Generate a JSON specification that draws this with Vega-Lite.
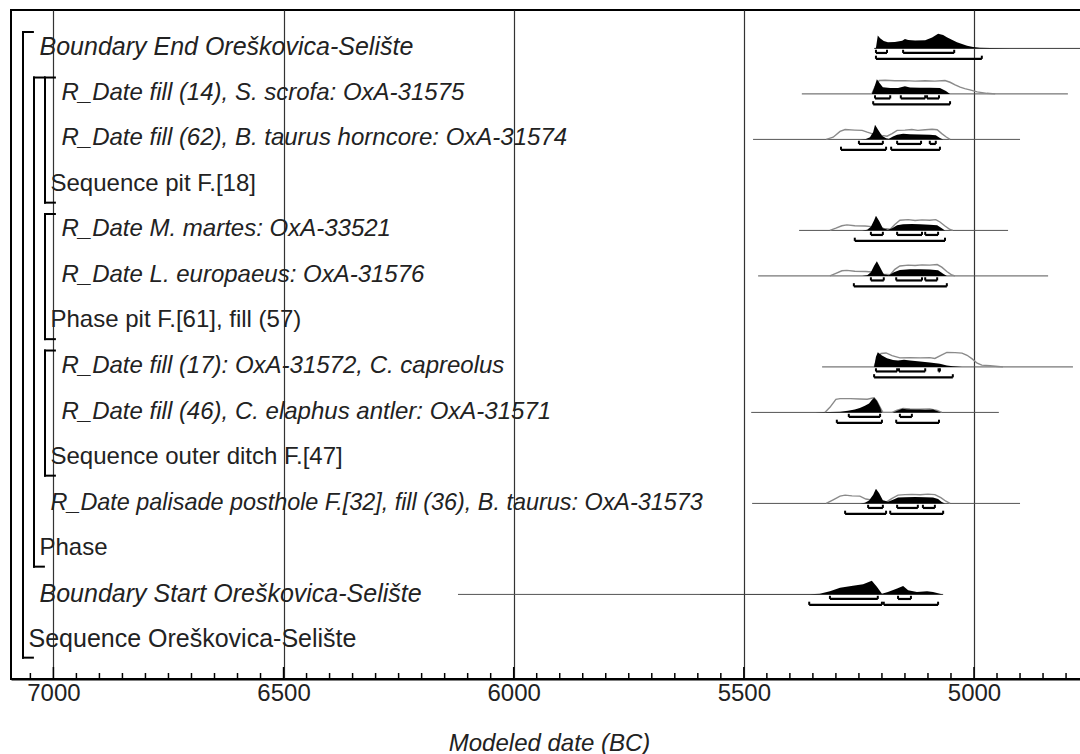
{
  "$schema": "https://vega.github.io/schema/vega-lite/v6.json",
  "width": 1076,
  "height": 669,
  "autosize": {"type": "none"},
  "padding": {"left": 11, "top": 10, "right": 0, "bottom": 75},
  "background": "white",
  "config": {
    "view": {"stroke": "black", "strokeWidth": 2},
    "font": "Liberation Sans"
  },
  "datasets": {
    "labels": [
      {"row": 0, "depth": 1, "kind": "Boundary", "label": "Boundary End Oreškovica-Selište"},
      {"row": 1, "depth": 3, "kind": "R_Date", "label": "R_Date fill (14), S. scrofa: OxA-31575"},
      {"row": 2, "depth": 3, "kind": "R_Date", "label": "R_Date fill (62), B. taurus horncore: OxA-31574"},
      {"row": 3, "depth": 2, "kind": "Sequence", "label": "Sequence pit F.[18]"},
      {"row": 4, "depth": 3, "kind": "R_Date", "label": "R_Date M. martes: OxA-33521"},
      {"row": 5, "depth": 3, "kind": "R_Date", "label": "R_Date L. europaeus: OxA-31576"},
      {"row": 6, "depth": 2, "kind": "Phase", "label": "Phase pit F.[61], fill (57)"},
      {"row": 7, "depth": 3, "kind": "R_Date", "label": "R_Date fill (17): OxA-31572, C. capreolus"},
      {"row": 8, "depth": 3, "kind": "R_Date", "label": "R_Date fill (46), C. elaphus antler: OxA-31571"},
      {"row": 9, "depth": 2, "kind": "Sequence", "label": "Sequence outer ditch F.[47]"},
      {"row": 10, "depth": 2, "kind": "R_Date", "label": "R_Date palisade posthole F.[32], fill (36), B. taurus: OxA-31573"},
      {"row": 11, "depth": 1, "kind": "Phase", "label": "Phase"},
      {"row": 12, "depth": 1, "kind": "Boundary", "label": "Boundary Start Oreškovica-Selište"},
      {"row": 13, "depth": 0, "kind": "Model", "label": "Sequence Oreškovica-Selište"}
    ],
    "groups": [
      {"name": "Sequence Oreškovica-Selište", "depth": 0, "first": 0, "last": 13},
      {"name": "Phase", "depth": 1, "first": 1, "last": 11},
      {"name": "Sequence pit F.[18]", "depth": 2, "first": 1, "last": 3},
      {"name": "Phase pit F.[61], fill (57)", "depth": 2, "first": 4, "last": 6},
      {"name": "Sequence outer ditch F.[47]", "depth": 2, "first": 7, "last": 9}
    ],
    "ticks": [
      {"yr": 7050, "major": false}, {"yr": 7000, "major": true}, {"yr": 6950, "major": false}, {"yr": 6900, "major": false}, {"yr": 6850, "major": false}, {"yr": 6800, "major": false}, {"yr": 6750, "major": false}, {"yr": 6700, "major": false}, {"yr": 6650, "major": false}, {"yr": 6600, "major": false}, {"yr": 6550, "major": false},
      {"yr": 6500, "major": true}, {"yr": 6450, "major": false}, {"yr": 6400, "major": false}, {"yr": 6350, "major": false}, {"yr": 6300, "major": false}, {"yr": 6250, "major": false}, {"yr": 6200, "major": false}, {"yr": 6150, "major": false}, {"yr": 6100, "major": false}, {"yr": 6050, "major": false},
      {"yr": 6000, "major": true}, {"yr": 5950, "major": false}, {"yr": 5900, "major": false}, {"yr": 5850, "major": false}, {"yr": 5800, "major": false}, {"yr": 5750, "major": false}, {"yr": 5700, "major": false}, {"yr": 5650, "major": false}, {"yr": 5600, "major": false}, {"yr": 5550, "major": false},
      {"yr": 5500, "major": true}, {"yr": 5450, "major": false}, {"yr": 5400, "major": false}, {"yr": 5350, "major": false}, {"yr": 5300, "major": false}, {"yr": 5250, "major": false}, {"yr": 5200, "major": false}, {"yr": 5150, "major": false}, {"yr": 5100, "major": false}, {"yr": 5050, "major": false},
      {"yr": 5000, "major": true}, {"yr": 4950, "major": false}, {"yr": 4900, "major": false}, {"yr": 4850, "major": false}, {"yr": 4800, "major": false}
    ],
    "spans": [
      {"row": 0, "from": 5217, "to": 4755},
      {"row": 1, "from": 5374, "to": 4796},
      {"row": 2, "from": 5480, "to": 4900},
      {"row": 4, "from": 5380, "to": 4926},
      {"row": 5, "from": 5469, "to": 4839},
      {"row": 7, "from": 5330, "to": 4785},
      {"row": 8, "from": 5484, "to": 4946},
      {"row": 10, "from": 5482, "to": 4900},
      {"row": 12, "from": 6121, "to": 5067}
    ],
    "ranges": [
      {"row": 0, "lvl": 68, "from": 5213, "to": 5189},
      {"row": 0, "lvl": 68, "from": 5154, "to": 5043},
      {"row": 0, "lvl": 95, "from": 5213, "to": 4983},
      {"row": 1, "lvl": 68, "from": 5215, "to": 5182},
      {"row": 1, "lvl": 68, "from": 5159, "to": 5106},
      {"row": 1, "lvl": 68, "from": 5102, "to": 5076},
      {"row": 1, "lvl": 95, "from": 5219, "to": 5052},
      {"row": 2, "lvl": 68, "from": 5250, "to": 5198},
      {"row": 2, "lvl": 68, "from": 5167, "to": 5115},
      {"row": 2, "lvl": 68, "from": 5096, "to": 5083},
      {"row": 2, "lvl": 95, "from": 5289, "to": 5191},
      {"row": 2, "lvl": 95, "from": 5180, "to": 5074},
      {"row": 4, "lvl": 68, "from": 5224, "to": 5198},
      {"row": 4, "lvl": 68, "from": 5167, "to": 5113},
      {"row": 4, "lvl": 68, "from": 5106, "to": 5078},
      {"row": 4, "lvl": 95, "from": 5259, "to": 5063},
      {"row": 5, "lvl": 68, "from": 5224, "to": 5196},
      {"row": 5, "lvl": 68, "from": 5169, "to": 5113},
      {"row": 5, "lvl": 68, "from": 5106, "to": 5080},
      {"row": 5, "lvl": 95, "from": 5261, "to": 5059},
      {"row": 7, "lvl": 68, "from": 5213, "to": 5167},
      {"row": 7, "lvl": 68, "from": 5163, "to": 5106},
      {"row": 7, "lvl": 68, "from": 5077, "to": 5074},
      {"row": 7, "lvl": 95, "from": 5217, "to": 5046},
      {"row": 8, "lvl": 68, "from": 5272, "to": 5204},
      {"row": 8, "lvl": 68, "from": 5161, "to": 5135},
      {"row": 8, "lvl": 95, "from": 5298, "to": 5200},
      {"row": 8, "lvl": 95, "from": 5169, "to": 5076},
      {"row": 10, "lvl": 68, "from": 5230, "to": 5198},
      {"row": 10, "lvl": 68, "from": 5167, "to": 5122},
      {"row": 10, "lvl": 68, "from": 5111, "to": 5085},
      {"row": 10, "lvl": 95, "from": 5280, "to": 5191},
      {"row": 10, "lvl": 95, "from": 5182, "to": 5067},
      {"row": 12, "lvl": 68, "from": 5313, "to": 5209},
      {"row": 12, "lvl": 68, "from": 5165, "to": 5137},
      {"row": 12, "lvl": 95, "from": 5358, "to": 5200},
      {"row": 12, "lvl": 95, "from": 5196, "to": 5078}
    ],
    "post": [
      {"row":0,"t":5217,"p":0},{"row":0,"t":5213,"p":5},{"row":0,"t":5209,"p":89},{"row":0,"t":5204,"p":70},{"row":0,"t":5196,"p":50},{"row":0,"t":5187,"p":42},{"row":0,"t":5172,"p":44},{"row":0,"t":5156,"p":52},{"row":0,"t":5150,"p":65},{"row":0,"t":5143,"p":58},{"row":0,"t":5128,"p":54},{"row":0,"t":5106,"p":56},{"row":0,"t":5091,"p":75},{"row":0,"t":5078,"p":100},{"row":0,"t":5067,"p":92},{"row":0,"t":5059,"p":77},{"row":0,"t":5048,"p":60},{"row":0,"t":5037,"p":42},{"row":0,"t":5026,"p":30},{"row":0,"t":5015,"p":19},{"row":0,"t":5002,"p":9},{"row":0,"t":4987,"p":5},{"row":0,"t":4965,"p":3},{"row":0,"t":4922,"p":1.5},{"row":0,"t":4857,"p":0.8},{"row":0,"t":4755,"p":0.4},
      {"row":1,"t":5222,"p":0},{"row":1,"t":5217,"p":40},{"row":1,"t":5211,"p":100},{"row":1,"t":5204,"p":70},{"row":1,"t":5198,"p":46},{"row":1,"t":5182,"p":40},{"row":1,"t":5165,"p":40},{"row":1,"t":5150,"p":52},{"row":1,"t":5139,"p":44},{"row":1,"t":5117,"p":42},{"row":1,"t":5096,"p":42},{"row":1,"t":5074,"p":40},{"row":1,"t":5061,"p":20},{"row":1,"t":5052,"p":0},
      {"row":2,"t":5248,"p":0},{"row":2,"t":5235,"p":3},{"row":2,"t":5226,"p":15},{"row":2,"t":5219,"p":50},{"row":2,"t":5215,"p":100},{"row":2,"t":5209,"p":70},{"row":2,"t":5200,"p":25},{"row":2,"t":5191,"p":8},{"row":2,"t":5185,"p":5},{"row":2,"t":5176,"p":20},{"row":2,"t":5167,"p":32},{"row":2,"t":5154,"p":38},{"row":2,"t":5139,"p":35},{"row":2,"t":5117,"p":33},{"row":2,"t":5096,"p":32},{"row":2,"t":5083,"p":28},{"row":2,"t":5074,"p":10},{"row":2,"t":5067,"p":0},
      {"row":4,"t":5243,"p":0},{"row":4,"t":5232,"p":5},{"row":4,"t":5224,"p":25},{"row":4,"t":5217,"p":70},{"row":4,"t":5213,"p":100},{"row":4,"t":5206,"p":65},{"row":4,"t":5198,"p":15},{"row":4,"t":5187,"p":5},{"row":4,"t":5178,"p":15},{"row":4,"t":5167,"p":35},{"row":4,"t":5154,"p":42},{"row":4,"t":5135,"p":44},{"row":4,"t":5117,"p":42},{"row":4,"t":5096,"p":38},{"row":4,"t":5080,"p":35},{"row":4,"t":5070,"p":15},{"row":4,"t":5063,"p":0},
      {"row":5,"t":5243,"p":0},{"row":5,"t":5232,"p":5},{"row":5,"t":5224,"p":25},{"row":5,"t":5217,"p":70},{"row":5,"t":5211,"p":100},{"row":5,"t":5204,"p":60},{"row":5,"t":5196,"p":12},{"row":5,"t":5185,"p":4},{"row":5,"t":5174,"p":25},{"row":5,"t":5161,"p":40},{"row":5,"t":5139,"p":45},{"row":5,"t":5117,"p":46},{"row":5,"t":5096,"p":44},{"row":5,"t":5078,"p":38},{"row":5,"t":5067,"p":15},{"row":5,"t":5059,"p":0},
      {"row":7,"t":5217,"p":0},{"row":7,"t":5213,"p":70},{"row":7,"t":5209,"p":100},{"row":7,"t":5200,"p":78},{"row":7,"t":5189,"p":60},{"row":7,"t":5176,"p":48},{"row":7,"t":5165,"p":44},{"row":7,"t":5152,"p":50},{"row":7,"t":5139,"p":44},{"row":7,"t":5117,"p":38},{"row":7,"t":5096,"p":30},{"row":7,"t":5074,"p":22},{"row":7,"t":5059,"p":10},{"row":7,"t":5046,"p":4},{"row":7,"t":5026,"p":0},
      {"row":8,"t":5345,"p":0},{"row":8,"t":5313,"p":2},{"row":8,"t":5291,"p":5},{"row":8,"t":5274,"p":11},{"row":8,"t":5259,"p":20},{"row":8,"t":5248,"p":30},{"row":8,"t":5237,"p":45},{"row":8,"t":5228,"p":62},{"row":8,"t":5222,"p":85},{"row":8,"t":5217,"p":100},{"row":8,"t":5211,"p":80},{"row":8,"t":5204,"p":35},{"row":8,"t":5200,"p":0},{"row":8,"t":5176,"p":0},{"row":8,"t":5167,"p":12},{"row":8,"t":5156,"p":25},{"row":8,"t":5146,"p":22},{"row":8,"t":5128,"p":20},{"row":8,"t":5106,"p":18},{"row":8,"t":5089,"p":20},{"row":8,"t":5080,"p":10},{"row":8,"t":5072,"p":0},
      {"row":10,"t":5248,"p":0},{"row":10,"t":5237,"p":5},{"row":10,"t":5228,"p":20},{"row":10,"t":5219,"p":60},{"row":10,"t":5213,"p":100},{"row":10,"t":5206,"p":70},{"row":10,"t":5198,"p":22},{"row":10,"t":5187,"p":12},{"row":10,"t":5176,"p":25},{"row":10,"t":5165,"p":40},{"row":10,"t":5150,"p":42},{"row":10,"t":5128,"p":44},{"row":10,"t":5106,"p":42},{"row":10,"t":5089,"p":40},{"row":10,"t":5078,"p":30},{"row":10,"t":5070,"p":10},{"row":10,"t":5063,"p":0},
      {"row":12,"t":5595,"p":0.3},{"row":12,"t":5465,"p":0.7},{"row":12,"t":5393,"p":1},{"row":12,"t":5356,"p":1},{"row":12,"t":5335,"p":5},{"row":12,"t":5313,"p":21},{"row":12,"t":5291,"p":45},{"row":12,"t":5263,"p":59},{"row":12,"t":5241,"p":69},{"row":12,"t":5230,"p":84},{"row":12,"t":5222,"p":93},{"row":12,"t":5211,"p":52},{"row":12,"t":5200,"p":5},{"row":12,"t":5187,"p":16},{"row":12,"t":5167,"p":41},{"row":12,"t":5154,"p":57},{"row":12,"t":5143,"p":29},{"row":12,"t":5124,"p":16},{"row":12,"t":5102,"p":21},{"row":12,"t":5089,"p":16},{"row":12,"t":5074,"p":4},{"row":12,"t":5067,"p":0}
    ],
    "prior": [
      {"row":1,"t":5222,"p":0},{"row":1,"t":5215,"p":50},{"row":1,"t":5206,"p":92},{"row":1,"t":5193,"p":94},{"row":1,"t":5172,"p":90},{"row":1,"t":5150,"p":91},{"row":1,"t":5128,"p":88},{"row":1,"t":5106,"p":90},{"row":1,"t":5085,"p":88},{"row":1,"t":5063,"p":92},{"row":1,"t":5052,"p":80},{"row":1,"t":5041,"p":62},{"row":1,"t":5030,"p":46},{"row":1,"t":5020,"p":36},{"row":1,"t":5009,"p":28},{"row":1,"t":4993,"p":14},{"row":1,"t":4972,"p":4},{"row":1,"t":4954,"p":0},
      {"row":2,"t":5321,"p":0},{"row":2,"t":5306,"p":15},{"row":2,"t":5291,"p":55},{"row":2,"t":5280,"p":68},{"row":2,"t":5259,"p":64},{"row":2,"t":5243,"p":62},{"row":2,"t":5232,"p":50},{"row":2,"t":5222,"p":40},{"row":2,"t":5211,"p":35},{"row":2,"t":5200,"p":28},{"row":2,"t":5189,"p":22},{"row":2,"t":5178,"p":40},{"row":2,"t":5167,"p":62},{"row":2,"t":5150,"p":64},{"row":2,"t":5135,"p":68},{"row":2,"t":5122,"p":62},{"row":2,"t":5106,"p":66},{"row":2,"t":5091,"p":70},{"row":2,"t":5080,"p":66},{"row":2,"t":5070,"p":40},{"row":2,"t":5061,"p":18},{"row":2,"t":5052,"p":0},
      {"row":4,"t":5313,"p":0},{"row":4,"t":5300,"p":15},{"row":4,"t":5287,"p":32},{"row":4,"t":5276,"p":38},{"row":4,"t":5259,"p":32},{"row":4,"t":5237,"p":30},{"row":4,"t":5222,"p":26},{"row":4,"t":5209,"p":22},{"row":4,"t":5196,"p":14},{"row":4,"t":5182,"p":8},{"row":4,"t":5172,"p":40},{"row":4,"t":5161,"p":70},{"row":4,"t":5143,"p":74},{"row":4,"t":5128,"p":68},{"row":4,"t":5113,"p":72},{"row":4,"t":5096,"p":70},{"row":4,"t":5083,"p":74},{"row":4,"t":5074,"p":58},{"row":4,"t":5063,"p":30},{"row":4,"t":5052,"p":6},{"row":4,"t":5046,"p":0},
      {"row":5,"t":5313,"p":0},{"row":5,"t":5300,"p":18},{"row":5,"t":5287,"p":35},{"row":5,"t":5276,"p":38},{"row":5,"t":5259,"p":32},{"row":5,"t":5235,"p":30},{"row":5,"t":5222,"p":27},{"row":5,"t":5209,"p":22},{"row":5,"t":5196,"p":12},{"row":5,"t":5182,"p":8},{"row":5,"t":5172,"p":45},{"row":5,"t":5161,"p":68},{"row":5,"t":5143,"p":74},{"row":5,"t":5128,"p":72},{"row":5,"t":5113,"p":76},{"row":5,"t":5096,"p":74},{"row":5,"t":5080,"p":78},{"row":5,"t":5070,"p":60},{"row":5,"t":5059,"p":30},{"row":5,"t":5048,"p":6},{"row":5,"t":5041,"p":0},
      {"row":7,"t":5217,"p":0},{"row":7,"t":5211,"p":55},{"row":7,"t":5202,"p":92},{"row":7,"t":5191,"p":96},{"row":7,"t":5178,"p":78},{"row":7,"t":5161,"p":62},{"row":7,"t":5139,"p":64},{"row":7,"t":5117,"p":62},{"row":7,"t":5096,"p":64},{"row":7,"t":5085,"p":58},{"row":7,"t":5072,"p":80},{"row":7,"t":5059,"p":100},{"row":7,"t":5041,"p":98},{"row":7,"t":5026,"p":95},{"row":7,"t":5015,"p":80},{"row":7,"t":5004,"p":55},{"row":7,"t":4993,"p":25},{"row":7,"t":4983,"p":12},{"row":7,"t":4965,"p":8},{"row":7,"t":4948,"p":3},{"row":7,"t":4937,"p":0},
      {"row":8,"t":5324,"p":0},{"row":8,"t":5313,"p":35},{"row":8,"t":5300,"p":90},{"row":8,"t":5291,"p":95},{"row":8,"t":5269,"p":95},{"row":8,"t":5248,"p":92},{"row":8,"t":5232,"p":90},{"row":8,"t":5222,"p":97},{"row":8,"t":5217,"p":100},{"row":8,"t":5211,"p":78},{"row":8,"t":5204,"p":35},{"row":8,"t":5198,"p":0},{"row":8,"t":5178,"p":0},{"row":8,"t":5167,"p":15},{"row":8,"t":5154,"p":27},{"row":8,"t":5139,"p":24},{"row":8,"t":5117,"p":22},{"row":8,"t":5096,"p":24},{"row":8,"t":5080,"p":14},{"row":8,"t":5070,"p":0},
      {"row":10,"t":5321,"p":0},{"row":10,"t":5306,"p":25},{"row":10,"t":5291,"p":50},{"row":10,"t":5280,"p":57},{"row":10,"t":5265,"p":52},{"row":10,"t":5248,"p":50},{"row":10,"t":5235,"p":30},{"row":10,"t":5226,"p":25},{"row":10,"t":5213,"p":22},{"row":10,"t":5200,"p":15},{"row":10,"t":5189,"p":12},{"row":10,"t":5178,"p":35},{"row":10,"t":5165,"p":57},{"row":10,"t":5150,"p":60},{"row":10,"t":5135,"p":62},{"row":10,"t":5117,"p":60},{"row":10,"t":5100,"p":64},{"row":10,"t":5085,"p":60},{"row":10,"t":5072,"p":40},{"row":10,"t":5061,"p":15},{"row":10,"t":5052,"p":0}
    ]
  },
  "layer": [
    {
      "layer": [
        {
          "data": {"name": "spans"},
          "transform": [{"calculate": "datum.row + 0.02", "as": "base"}],
          "mark": {"type": "rule", "color": "#555555", "strokeWidth": 1, "clip": true},
          "encoding": {
            "x": {
              "field": "from", "type": "quantitative",
              "scale": {"domain": [4754.5, 7092.1], "reverse": true, "nice": false, "zero": false},
              "axis": {
                "orient": "bottom",
                "values": [7000, 6500, 6000, 5500, 5000],
                "format": "d",
                "labelFont": "Liberation Sans",
                "labelFontSize": 24,
                "labelColor": "#222222",
                "labelPadding": 2,
                "labelFlush": false,
                "labelOverlap": false,
                "labelBound": false,
                "domain": true,
                "domainColor": "black",
                "domainWidth": 2,
                "ticks": false,
                "tickSize": 0,
                "grid": true,
                "gridColor": "#333333",
                "gridWidth": 1.2,
                "title": "Modeled date (BC)",
                "titleFont": "Liberation Sans",
                "titleFontSize": 24,
                "titleFontStyle": "italic",
                "titleFontWeight": "normal",
                "titleColor": "#222222",
                "titleY": 52,
                "titleBaseline": "top"
              }
            },
            "x2": {"field": "to"},
            "y": {"field": "base", "type": "quantitative", "scale": {"domain": [-0.824, 13.879], "reverse": true, "nice": false, "zero": false}, "axis": null}
          }
        },
        {
          "data": {"name": "prior"},
          "transform": [{"calculate": "datum.row + 0.02 - datum.p * 0.0032", "as": "top"}],
          "mark": {"type": "line", "color": "#8a8a8a", "strokeWidth": 1.4, "clip": true},
          "encoding": {
            "x": {"field": "t", "type": "quantitative"},
            "y": {"field": "top", "type": "quantitative"},
            "detail": {"field": "row"}
          }
        },
        {
          "data": {"name": "post"},
          "transform": [
            {"calculate": "datum.row + 0.02 - datum.p * 0.0032", "as": "top"},
            {"calculate": "datum.row + 0.02", "as": "base"}
          ],
          "mark": {"type": "area", "color": "black", "clip": true},
          "encoding": {
            "x": {"field": "t", "type": "quantitative"},
            "y": {"field": "top", "type": "quantitative"},
            "y2": {"field": "base"},
            "detail": {"field": "row"}
          }
        },
        {
          "data": {"name": "ranges"},
          "transform": [{"calculate": "datum.row + (datum.lvl == 68 ? 0.12 : 0.25)", "as": "ry"}],
          "mark": {"type": "rule", "color": "black", "strokeWidth": 2.2},
          "encoding": {
            "x": {"field": "from", "type": "quantitative"},
            "x2": {"field": "to"},
            "y": {"field": "ry", "type": "quantitative"}
          }
        },
        {
          "data": {"name": "ranges"},
          "transform": [
            {"calculate": "datum.row + (datum.lvl == 68 ? 0.12 : 0.25)", "as": "ry"},
            {"calculate": "datum.ry - 0.07", "as": "ry2"},
            {"fold": ["from", "to"], "as": ["end", "yr"]}
          ],
          "mark": {"type": "rule", "color": "black", "strokeWidth": 2},
          "encoding": {
            "x": {"field": "yr", "type": "quantitative"},
            "y": {"field": "ry", "type": "quantitative"},
            "y2": {"field": "ry2"}
          }
        },
        {
          "data": {"name": "ticks"},
          "transform": [
            {"calculate": "13.879", "as": "foot"},
            {"calculate": "datum.major ? 13.615 : 13.747", "as": "tip"}
          ],
          "mark": {"type": "rule", "color": "black", "strokeWidth": 1.5},
          "encoding": {
            "x": {"field": "yr", "type": "quantitative"},
            "y": {"field": "foot", "type": "quantitative"},
            "y2": {"field": "tip"}
          }
        }
      ]
    },
    {
      "layer": [
        {
          "data": {"name": "groups"},
          "transform": [
            {"calculate": "datum.first - 0.34", "as": "top"},
            {"calculate": "datum.last + 0.41", "as": "bot"}
          ],
          "mark": {"type": "rule", "color": "black", "strokeWidth": 2, "strokeCap": "square"},
          "encoding": {
            "x": {"field": "depth", "type": "quantitative", "scale": {"domain": [-1.0909, 96.727], "nice": false, "zero": false}, "axis": null},
            "y": {"field": "top", "type": "quantitative", "scale": {"domain": [-0.824, 13.879], "reverse": true, "nice": false, "zero": false}, "axis": null},
            "y2": {"field": "bot"}
          }
        },
        {
          "data": {"name": "groups"},
          "transform": [
            {"calculate": "datum.first - 0.34", "as": "top"},
            {"calculate": "datum.depth + 0.9", "as": "dEnd"}
          ],
          "mark": {"type": "rule", "color": "black", "strokeWidth": 2, "strokeCap": "square"},
          "encoding": {
            "x": {"field": "depth", "type": "quantitative"},
            "x2": {"field": "dEnd"},
            "y": {"field": "top", "type": "quantitative"}
          }
        },
        {
          "data": {"name": "groups"},
          "transform": [
            {"calculate": "datum.last + 0.41", "as": "bot"},
            {"calculate": "datum.depth + 0.9", "as": "dEnd"}
          ],
          "mark": {"type": "rule", "color": "black", "strokeWidth": 2, "strokeCap": "square"},
          "encoding": {
            "x": {"field": "depth", "type": "quantitative"},
            "x2": {"field": "dEnd"},
            "y": {"field": "bot", "type": "quantitative"}
          }
        },
        {
          "data": {"name": "labels"},
          "transform": [{"filter": "datum.kind == 'R_Date' && datum.row != 10"}],
          "mark": {"type": "text", "align": "left", "baseline": "middle", "dx": 5.5, "font": "Liberation Sans", "fontSize": 24, "fontStyle": "italic", "color": "#222222"},
          "encoding": {
            "x": {"field": "depth", "type": "quantitative"},
            "y": {"field": "row", "type": "quantitative"},
            "text": {"field": "label"}
          }
        },
        {
          "data": {"name": "labels"},
          "transform": [{"filter": "datum.kind == 'R_Date' && datum.row == 10"}],
          "mark": {"type": "text", "align": "left", "baseline": "middle", "dx": 5.5, "font": "Liberation Sans", "fontSize": 23.4, "fontStyle": "italic", "color": "#222222"},
          "encoding": {
            "x": {"field": "depth", "type": "quantitative"},
            "y": {"field": "row", "type": "quantitative"},
            "text": {"field": "label"}
          }
        },
        {
          "data": {"name": "labels"},
          "transform": [{"filter": "datum.kind == 'Boundary'"}],
          "mark": {"type": "text", "align": "left", "baseline": "middle", "dx": 5.5, "font": "Liberation Sans", "fontSize": 25, "fontStyle": "italic", "color": "#222222"},
          "encoding": {
            "x": {"field": "depth", "type": "quantitative"},
            "y": {"field": "row", "type": "quantitative"},
            "text": {"field": "label"}
          }
        },
        {
          "data": {"name": "labels"},
          "transform": [{"filter": "datum.kind == 'Sequence' || datum.kind == 'Phase'"}],
          "mark": {"type": "text", "align": "left", "baseline": "middle", "dx": 5.5, "font": "Liberation Sans", "fontSize": 24, "color": "#222222"},
          "encoding": {
            "x": {"field": "depth", "type": "quantitative"},
            "y": {"field": "row", "type": "quantitative"},
            "text": {"field": "label"}
          }
        },
        {
          "data": {"name": "labels"},
          "transform": [{"filter": "datum.kind == 'Model'"}],
          "mark": {"type": "text", "align": "left", "baseline": "middle", "dx": 5.5, "font": "Liberation Sans", "fontSize": 25, "color": "#222222"},
          "encoding": {
            "x": {"field": "depth", "type": "quantitative"},
            "y": {"field": "row", "type": "quantitative"},
            "text": {"field": "label"}
          }
        }
      ]
    }
  ],
  "resolve": {"scale": {"x": "independent"}, "axis": {"x": "independent"}}
}
